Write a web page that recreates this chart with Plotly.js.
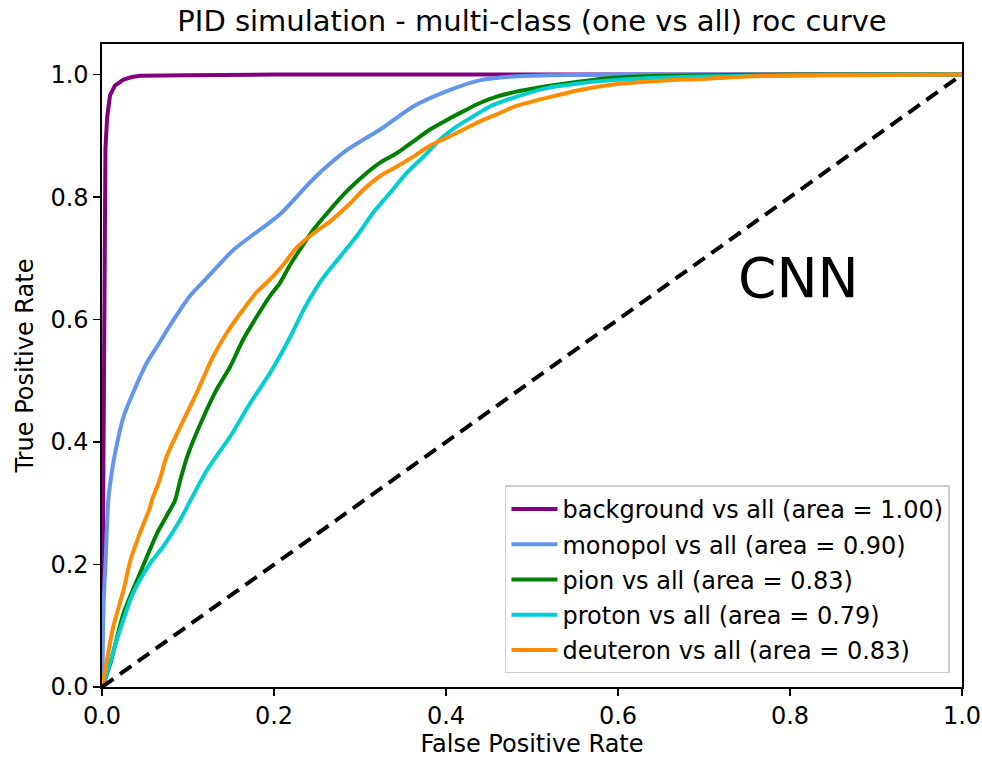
<!DOCTYPE html>
<html>
<head>
<meta charset="utf-8">
<script src="https://cdn.plot.ly/plotly-3.0.1.min.js"></script>
<style>html,body{margin:0;padding:0;background:#fff;}#chart{width:982px;height:760px;}</style>
</head>
<body>
<div id="chart"></div>
<script>
const names = [
  "background vs all (area = 1.00)",
  "monopol vs all (area = 0.90)",
  "pion vs all (area = 0.83)",
  "proton vs all (area = 0.79)",
  "deuteron vs all (area = 0.83)"
];
const colors = ["#800080", "#6495ED", "#008000", "#00CED1", "#FF8C00"];

const backgroundFpr = [0, 0.001, 0.002, 0.003, 0.004, 0.006, 0.0093, 0.015, 0.025, 0.035, 0.044, 0.1, 0.2, 0.5, 1.0];
const backgroundTpr = [0, 0.3, 0.6, 0.8, 0.88, 0.93, 0.966, 0.982, 0.992, 0.996, 0.998, 0.999, 1.0, 1.0, 1.0];

const monopolFpr = [0, 0.001, 0.002, 0.004, 0.0073, 0.0101, 0.013, 0.025, 0.036, 0.052, 0.064, 0.083, 0.102, 0.122, 0.153, 0.207, 0.246, 0.285, 0.323, 0.362, 0.401, 0.440, 0.478, 0.52, 0.6, 1.0];
const monopolTpr = [0, 0.08, 0.14, 0.2, 0.305, 0.338, 0.365, 0.441, 0.480, 0.529, 0.556, 0.599, 0.638, 0.668, 0.714, 0.772, 0.830, 0.877, 0.910, 0.948, 0.973, 0.991, 0.997, 0.999, 1.0, 1.0];

const pionFpr = [0, 0.003, 0.01, 0.025, 0.044, 0.064, 0.079, 0.085, 0.091, 0.100, 0.118, 0.133, 0.149, 0.164, 0.180, 0.195, 0.207, 0.219, 0.230, 0.246, 0.265, 0.285, 0.304, 0.323, 0.343, 0.362, 0.381, 0.401, 0.420, 0.440, 0.459, 0.478, 0.517, 0.556, 0.595, 0.65, 0.7, 0.8, 1.0];
const pionTpr = [0, 0.01, 0.04, 0.12, 0.185, 0.251, 0.289, 0.305, 0.338, 0.380, 0.441, 0.485, 0.523, 0.567, 0.605, 0.638, 0.660, 0.690, 0.714, 0.747, 0.779, 0.810, 0.835, 0.856, 0.872, 0.891, 0.910, 0.926, 0.940, 0.954, 0.964, 0.971, 0.981, 0.989, 0.995, 0.998, 0.999, 1.0, 1.0];

const protonFpr = [0, 0.005, 0.017, 0.036, 0.056, 0.071, 0.091, 0.103, 0.122, 0.149, 0.172, 0.195, 0.219, 0.236, 0.257, 0.277, 0.296, 0.315, 0.335, 0.354, 0.374, 0.393, 0.412, 0.432, 0.451, 0.478, 0.517, 0.556, 0.595, 0.65, 0.7, 0.8, 1.0];
const protonTpr = [0, 0.02, 0.076, 0.153, 0.202, 0.229, 0.273, 0.305, 0.354, 0.409, 0.463, 0.512, 0.572, 0.620, 0.668, 0.703, 0.736, 0.774, 0.807, 0.839, 0.866, 0.894, 0.915, 0.932, 0.948, 0.962, 0.978, 0.986, 0.991, 0.995, 0.997, 0.999, 1.0];

const deuteronFpr = [0, 0.004, 0.013, 0.025, 0.033, 0.044, 0.056, 0.058, 0.067, 0.075, 0.091, 0.110, 0.129, 0.145, 0.164, 0.180, 0.195, 0.211, 0.226, 0.246, 0.265, 0.285, 0.304, 0.323, 0.343, 0.362, 0.381, 0.401, 0.420, 0.440, 0.459, 0.478, 0.517, 0.556, 0.595, 0.65, 0.7, 0.75, 0.85, 1.0];
const deuteronTpr = [0, 0.03, 0.098, 0.158, 0.207, 0.251, 0.294, 0.305, 0.338, 0.376, 0.425, 0.480, 0.539, 0.578, 0.616, 0.645, 0.665, 0.690, 0.717, 0.741, 0.760, 0.785, 0.812, 0.834, 0.850, 0.866, 0.884, 0.897, 0.910, 0.924, 0.935, 0.947, 0.962, 0.975, 0.984, 0.990, 0.993, 0.997, 0.999, 1.0];

const chanceX = [0, 1];
const chanceY = [0, 1];

const tickVals = [0, 0.2, 0.4, 0.6, 0.8, 1.0];
const tickText = ["0.0", "0.2", "0.4", "0.6", "0.8", "1.0"];

const curves = [
  [backgroundFpr, backgroundTpr],
  [monopolFpr, monopolTpr],
  [pionFpr, pionTpr],
  [protonFpr, protonTpr],
  [deuteronFpr, deuteronTpr]
];

const FONT = "DejaVu Sans, Liberation Sans, sans-serif";

const traces = curves.map((c, i) => ({
  x: c[0], y: c[1], type: "scatter", mode: "lines", name: names[i],
  legendgroup: "g" + i,
  line: i === 0 ? {color: colors[i], width: 4} : {color: colors[i], width: 4, shape: "spline", smoothing: 0.7},
  hoverinfo: "skip"
}));
traces.push({
  x: chanceX, y: chanceY, type: "scatter", mode: "lines", showlegend: false,
  line: {color: "black", width: 4, dash: "14px,8px"}, hoverinfo: "skip"
});

const axisCommon = {
  showgrid: false, zeroline: false, showline: true, mirror: true,
  linecolor: "black", linewidth: 1.6,
  ticks: "outside", ticklen: 7, tickwidth: 1.6, tickcolor: "black",
  tickvals: tickVals, ticktext: tickText,
  tickfont: {family: FONT, size: 24, color: "black"}
};

const layout = {
  width: 982, height: 760,
  paper_bgcolor: "white", plot_bgcolor: "white",
  margin: {l: 102, r: 20, t: 44, b: 73, pad: 0},
  title: {
    text: "PID simulation - multi-class (one vs all) roc curve",
    font: {family: FONT, size: 29, color: "black"},
    x: 0.5, xref: "paper", y: 1 - 21 / 760, yref: "container", yanchor: "middle"
  },
  xaxis: Object.assign({}, axisCommon, {
    range: [0, 1.0],
    title: {text: "False Positive Rate", font: {family: FONT, size: 24, color: "black"}, standoff: 6}
  }),
  yaxis: Object.assign({}, axisCommon, {
    range: [0, 1.05],
    title: {text: "True Positive Rate", font: {family: FONT, size: 24, color: "black"}, standoff: 10}
  }),
  showlegend: true,
  legend: {
    x: 0.986, xanchor: "right", y: 0.021, yanchor: "bottom",
    traceorder: "grouped", tracegroupgap: 1, itemwidth: 46,
    bgcolor: "rgba(255,255,255,0.8)", bordercolor: "#cccccc", borderwidth: 1.5,
    font: {family: FONT, size: 24, color: "black"}
  },
  annotations: [{
    x: 0.81, y: 0.668, xref: "x", yref: "y", text: "CNN", showarrow: false,
    font: {family: FONT, size: 55, color: "black"}, xanchor: "center", yanchor: "middle"
  }]
};

Plotly.newPlot("chart", traces, layout, {displayModeBar: false, staticPlot: true});
</script>
</body>
</html>
